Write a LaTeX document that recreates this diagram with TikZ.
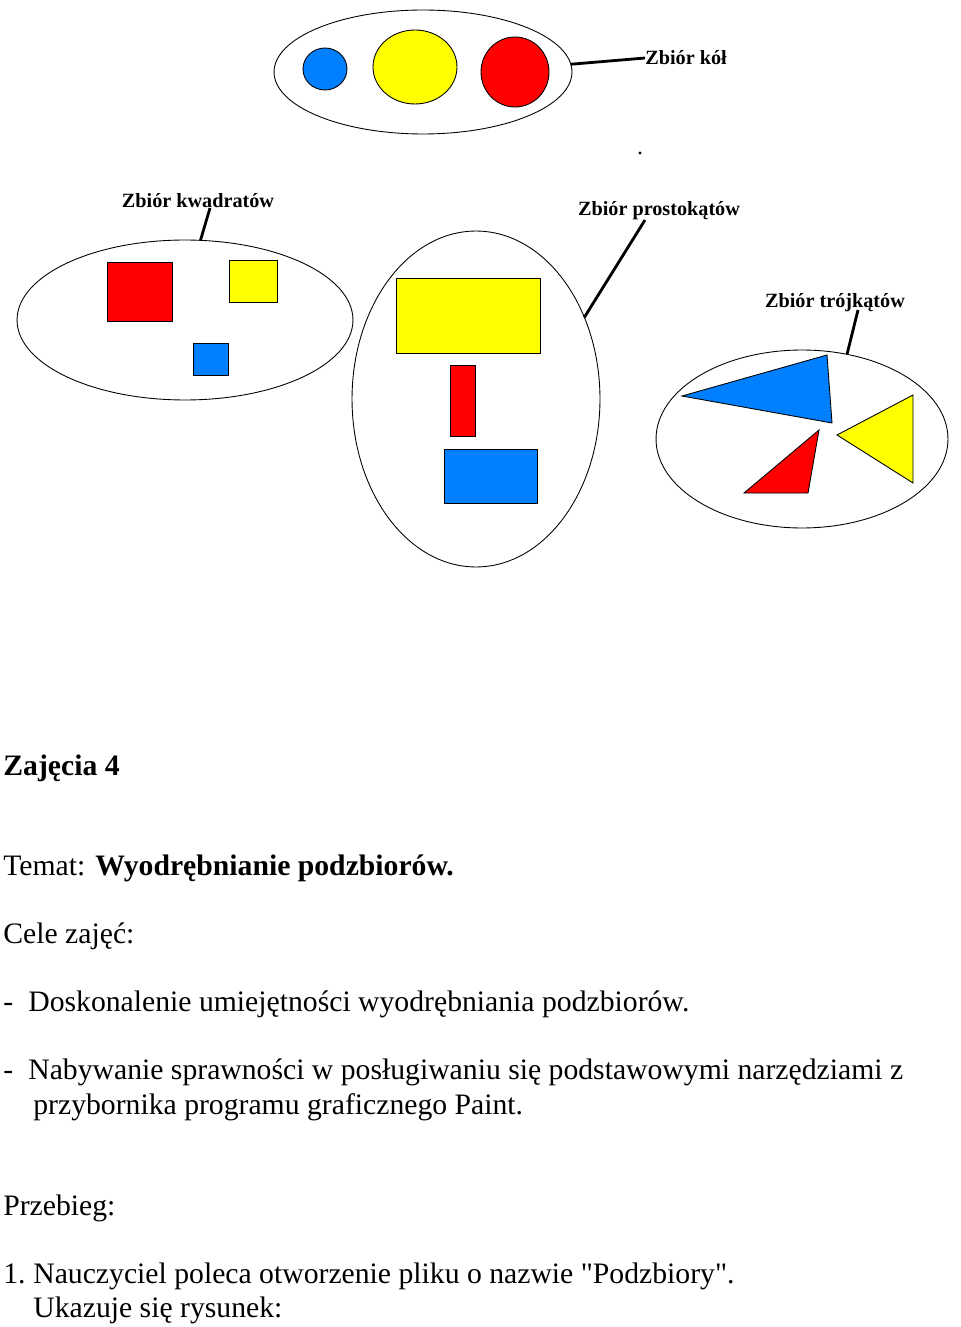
\documentclass[tikz,border=0pt]{standalone}
\usepackage{fontspec}
\setmainfont{Liberation Serif}
\usepackage{xcolor}
\usetikzlibrary{positioning,shapes.geometric}

\definecolor{pblue}{RGB}{0,128,255}
\definecolor{pyellow}{RGB}{255,255,0}
\definecolor{pred}{RGB}{255,0,0}

\begin{document}
\begin{tikzpicture}[x=0.02cm,y=-0.02cm,
		zbior/.style={draw,ellipse,inner sep=0pt,outer sep=0pt,line width=0.5pt},
		etykieta/.style={inner sep=0pt,font=\fontsize{11.5}{13}\selectfont\bfseries},
		wskaznik/.style={line width=1.6pt},
		figura/.style={draw,line width=0.5pt},
		tekst/.style={anchor=base west,inner sep=0pt,font=\fontsize{16.9}{20}\selectfont}]
		
		\useasboundingbox (0,0) rectangle (960,1327);
		
		\node[zbior,minimum width=5.96cm,minimum height=2.48cm] (kola)
		at (423,72) {};
		
		\node[zbior,minimum width=6.72cm,minimum height=3.2cm] (kwadraty)
		at (185,320) {};
		
		\node[zbior,minimum width=4.96cm,minimum height=6.72cm] (prostokaty)
		at (476,399) {};
		
		\node[zbior,minimum width=5.84cm,minimum height=3.56cm] (trojkaty)
		at (802,439) {};
		
		\filldraw[figura,fill=pblue] (325,69) ellipse [x radius=22,y radius=21];
		\filldraw[figura,fill=pyellow] (415,67) ellipse [x radius=42,y radius=37];
		\filldraw[figura,fill=pred] (515,72) ellipse [x radius=34,y radius=35];
		
		\filldraw[figura,fill=pred] (107,262) rectangle (172,321);
		\filldraw[figura,fill=pyellow] (229,260) rectangle (277,302);
		\filldraw[figura,fill=pblue] (193,343) rectangle (228,375);
		
		\filldraw[figura,fill=pyellow] (396,278) rectangle (540,353);
		\filldraw[figura,fill=pred] (450,365) rectangle (475,436);
		\filldraw[figura,fill=pblue] (444,449) rectangle (537,503);
		
		\filldraw[figura,fill=pblue] (682,396) -- (827,355) -- (832,423) -- cycle;
		\filldraw[figura,fill=pred] (744,493) -- (819,430) -- (808,493) -- cycle;
		\filldraw[figura,fill=pyellow] (837,435) -- (913,395) -- (913,483) -- cycle;
		
		\fill (640,153) circle (1.6);
		
		\node[etykieta,anchor=west] (lkol)
		at (645,58) {Zbiór kół};
		
		\node[etykieta] (lkwadr)
		at (198,201) {Zbiór kwadratów};
		
		\node[etykieta] (lprost)
		at (659,211) {Zbiór prostokątów};
		
		\node[etykieta] (ltroj)
		at (835,303) {Zbiór trójkątów};
		
		\coordinate (pkwadr) at (210,208);
		\coordinate (pprost) at (645,220);
		\coordinate (ptroj) at (858,310);
		
		\draw[wskaznik] (kola.3)--(lkol.west);
		\draw[wskaznik] (kwadraty.79)--(pkwadr);
		\draw[wskaznik] (prostokaty.37)--(pprost);
		\draw[wskaznik] (trojkaty.62)--(ptroj);
		
		\node[tekst] (zajecia)
		at (3,775) {\bfseries Zajęcia 4};
		
		\node[tekst] (temat)
		at (3,875) {Temat: \textbf{Wyodrębnianie podzbiorów.}};
		
		\node[tekst] (cele)
		at (3,943) {Cele zajęć:};
		
		\node[tekst] (cel1)
		at (3,1011) {\makebox[0.5cm][l]{-}Doskonalenie umiejętności wyodrębniania podzbiorów.};
		
		\node[tekst] (cel2)
		at (3,1079) {\makebox[0.5cm][l]{-}Nabywanie sprawności w posługiwaniu się podstawowymi narzędziami z};
		
		\node[tekst] (cel2b)
		at (33,1114) {przybornika programu graficznego Paint.};
		
		\node[tekst] (przebieg)
		at (3,1215) {Przebieg:};
		
		\node[tekst] (krok1)
		at (3,1283) {\makebox[0.6cm][l]{1.}Nauczyciel poleca otworzenie pliku o nazwie \textquotedbl Podzbiory\textquotedbl.};
		
		\node[tekst] (krok1b)
		at (33,1317) {Ukazuje się rysunek:};
		
	\end{tikzpicture}
\end{document}
